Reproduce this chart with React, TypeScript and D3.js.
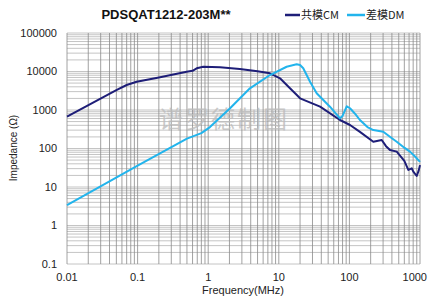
import React from 'react';
import * as d3 from 'd3';

// frequency (MHz) and impedance (ohm)
const cmFreq = [0.01, 0.05, 0.07, 0.097, 0.2, 0.495, 0.6, 0.687, 0.853, 1.47, 2.8, 5, 7.5, 10.4, 14.4, 20, 38.4, 73.6, 102, 141, 218, 287, 330, 376, 468, 600, 683, 763, 804, 898, 960, 1000];
const cmZ = [670, 3300, 4460, 5430, 7000, 9900, 10400, 12100, 13300, 12900, 11600, 10100, 8960, 6660, 3660, 2010, 1220, 550, 408, 270, 150, 166, 115, 91, 83, 48, 27.7, 30.6, 25, 19.3, 27, 37];

const dmFreq = [0.01, 0.1, 0.5, 0.8, 1.06, 2.04, 3.9, 7.5, 12.9, 17.9, 20, 22.2, 27.7, 34.4, 53, 73.6, 80, 91.6, 102, 120, 141, 180, 218, 302, 400, 468, 600, 721, 850, 1000];
const dmZ = [3.4, 36, 180, 250, 360, 1110, 3660, 8100, 13300, 15400, 14800, 12100, 5430, 2720, 1220, 608, 700, 1250, 1110, 800, 550, 360, 302, 273, 185, 150, 105, 83, 62, 45];

const xTicks = [0.01, 0.1, 1, 10, 100, 1000];
const xTickLabels = ['0.01', '0.1', '1', '10', '100', '1000'];
const yTicks = [0.1, 1, 10, 100, 1000, 10000, 100000];
const yTickLabels = ['0.1', '1', '10', '100', '1000', '10000', '100000'];

const W = 428;
const H = 297;
const left = 67;
const right = 420;
const top = 33;
const bottom = 264;

const App = () => {
  const x = d3.scaleLog().domain([0.01, 1000]).range([left, right]);
  const y = d3.scaleLog().domain([0.1, 100000]).range([bottom, top]);

  // minor grid values 1..9 per decade
  const minorX: number[] = [];
  for (let e = -2; e < 3; e++) for (let k = 1; k < 10; k++) minorX.push(k * Math.pow(10, e));
  minorX.push(1000);
  const minorY: number[] = [];
  for (let e = -1; e < 5; e++) for (let k = 1; k < 10; k++) minorY.push(k * Math.pow(10, e));
  minorY.push(100000);

  const line = d3
    .line<[number, number]>()
    .x((d) => x(d[0]))
    .y((d) => y(d[1]))
    .curve(d3.curveLinear);

  const cm = cmFreq.map((f, i) => [f, cmZ[i]] as [number, number]);
  const dm = dmFreq.map((f, i) => [f, dmZ[i]] as [number, number]);

  const font = 'Liberation Sans, Arial, sans-serif';

  return (
    <svg width={W} height={H} style={{ position: 'absolute', left: 0, top: 0, background: '#fff' }}>
      {/* horizontal grid */}
      {minorY.map((v, i) => (
        <line key={'h' + i} x1={left} x2={right} y1={y(v)} y2={y(v)} stroke="#c4c4c4" strokeWidth={1} />
      ))}
      {/* vertical grid */}
      {minorX.map((v, i) => (
        <line key={'v' + i} x1={x(v)} x2={x(v)} y1={top} y2={bottom} stroke="#8a8a8a" strokeWidth={0.8} />
      ))}

      {/* watermark */}
      <text x={224} y={128} textAnchor="middle" fontFamily="Noto Sans CJK SC" fontSize={24} fill="#bdbdbd" opacity={0.8} letterSpacing={2}>
        谱罗德制图
      </text>

      <path d={line(cm) || ''} fill="none" stroke="#1e1e78" strokeWidth={2} strokeLinejoin="round" />
      <path d={line(dm) || ''} fill="none" stroke="#22b4ec" strokeWidth={2} strokeLinejoin="round" />

      {/* y tick labels */}
      {yTicks.map((v, i) => (
        <text key={'yt' + i} x={57} y={y(v)} dy="0.35em" textAnchor="end" fontFamily={font} fontSize={11} fill="#222">
          {yTickLabels[i]}
        </text>
      ))}
      {/* x tick labels (last one kept inside the picture) */}
      {xTicks.map((v, i) => (
        <text
          key={'xt' + i}
          x={i === xTicks.length - 1 ? W - 1 : x(v)}
          y={281}
          textAnchor={i === xTicks.length - 1 ? 'end' : 'middle'}
          fontFamily={font}
          fontSize={11}
          fill="#222"
        >
          {xTickLabels[i]}
        </text>
      ))}

      <text x={243} y={294} textAnchor="middle" fontFamily={font} fontSize={11} fill="#222">
        Frequency(MHz)
      </text>
      <text transform="translate(17,148) rotate(-90)" textAnchor="middle" fontFamily={font} fontSize={10} fill="#222">
        Impedance (Ω)
      </text>

      <text x={166} y={19} textAnchor="middle" fontFamily={font} fontSize={13} fontWeight="bold" fill="#111">
        PDSQAT1212-203M**
      </text>

      {/* legend */}
      <line x1={285} x2={300} y1={15} y2={15} stroke="#1e1e78" strokeWidth={2.5} />
      <text x={301} y={19} fontFamily="Noto Sans CJK SC, Liberation Sans, sans-serif" fontSize={11} fill="#222">
        共模CM
      </text>
      <line x1={347} x2={365} y1={15} y2={15} stroke="#22b4ec" strokeWidth={2.5} />
      <text x={366} y={19} fontFamily="Noto Sans CJK SC, Liberation Sans, sans-serif" fontSize={11} fill="#222">
        差模DM
      </text>
    </svg>
  );
};

export default App;
